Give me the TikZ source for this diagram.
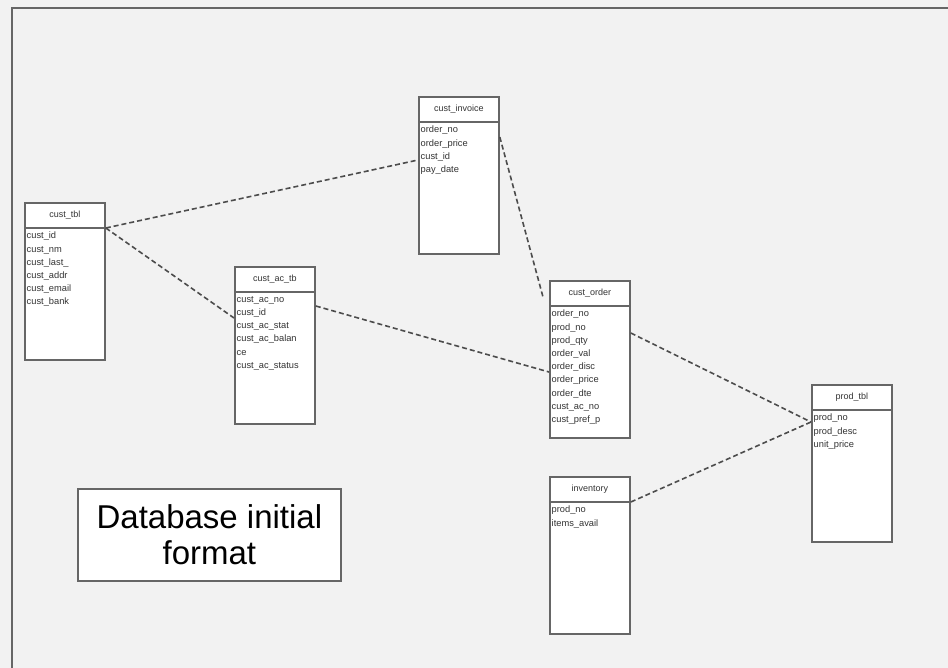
\documentclass[tikz,border=0pt]{standalone}
\usepackage{fontspec}
\setmainfont{Liberation Sans}
\usetikzlibrary{positioning}

\tikzset{
  tbl/.style={draw=black!60, line width=1.8pt, fill=white, anchor=north west,
    minimum width=80pt, minimum height=157pt, inner sep=0pt},
  hdr/.style={font=\fontsize{9}{11}\selectfont, text=black!80, inner sep=0pt},
  fields/.style={anchor=north west, align=left, inner sep=0pt,
    font=\fontsize{9.3}{13.2}\selectfont, text=black!80},
  link/.style={draw=black!70, line width=1.6pt, dash pattern=on 5pt off 3pt},
  titlebox/.style={draw=black!60, line width=1.8pt, fill=white, anchor=north west,
    minimum width=263pt, minimum height=92pt, align=center,
    font=\fontsize{33}{36}\selectfont}
}

% one table: name, x, y, title, fields
\newcommand\dbtable[5]{
  \node[tbl] (#1) at (#2,#3) {};
  \node[hdr] (#1h) at ([yshift=-13pt]#1.north) {#4};
  \draw[black!60, line width=1.8pt] ([yshift=-26pt]#1.north west) -- ([yshift=-26pt]#1.north east);
  \node[fields] (#1f) at ([xshift=2.5pt,yshift=-30pt]#1.north west) {#5};
}

\begin{document}
\begin{tikzpicture}[x=1pt, y=-1pt]
  \useasboundingbox (0,0) rectangle (948,668);
  \fill[black!5] (0,0) rectangle (948,668); % background
  \draw[black!60, line width=1.8pt] (12,668) -- (12,8) -- (948,8); % frame

  \dbtable{custtbl}{24}{202}{cust\_tbl}{cust\_id\\cust\_nm\\cust\_last\_\\cust\_addr\\cust\_email\\cust\_bank}
  \dbtable{custac}{234}{266}{cust\_ac\_tb}{cust\_ac\_no\\cust\_id\\cust\_ac\_stat\\cust\_ac\_balan\\ce\\cust\_ac\_status}
  \dbtable{custinv}{418}{96}{cust\_invoice}{order\_no\\order\_price\\cust\_id\\pay\_date}
  \dbtable{custord}{549}{280}{cust\_order}{order\_no\\prod\_no\\prod\_qty\\order\_val\\order\_disc\\order\_price\\order\_dte\\cust\_ac\_no\\cust\_pref\_p}
  \dbtable{inv}{549}{476}{inventory}{prod\_no\\items\_avail}
  \dbtable{prodtbl}{811}{384}{prod\_tbl}{prod\_no\\prod\_desc\\unit\_price}

  \node[titlebox] (title) at (77,488) {Database initial\\format};

  % relations
  \draw[link] ([yshift=-26pt]custtbl.north east) -- ([yshift=-64pt]custinv.north west);
  \draw[link] ([yshift=-26pt]custtbl.north east) -- ([yshift=-52pt]custac.north west);
  \draw[link] ([yshift=-40pt]custac.north east) -- ([yshift=-92pt]custord.north west);
  \draw[link] ([yshift=-41pt]custinv.north east) -- ([xshift=-6pt,yshift=-17pt]custord.north west);
  \draw[link] ([yshift=-53pt]custord.north east) -- ([yshift=-38pt]prodtbl.north west);
  \draw[link] ([yshift=-26pt]inv.north east) -- ([yshift=-38pt]prodtbl.north west);
\end{tikzpicture}
\end{document}
